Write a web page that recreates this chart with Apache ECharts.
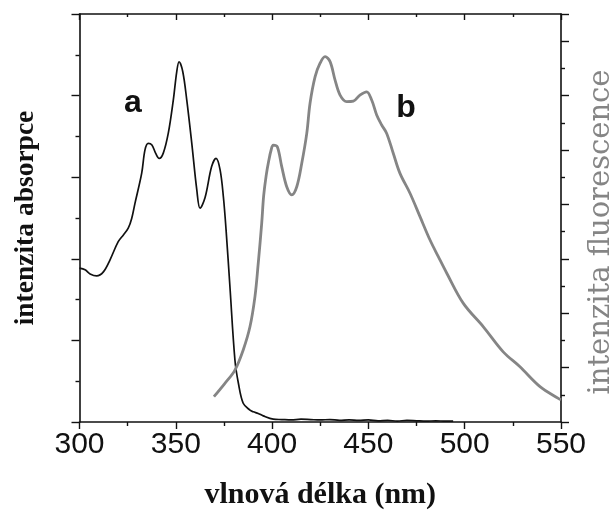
<!DOCTYPE html>
<html>
<head>
<meta charset="utf-8">
<script src="https://cdn.jsdelivr.net/npm/echarts@6/dist/echarts.min.js"></script>
<style>
  html, body { margin: 0; padding: 0; background: #fff; }
  #chart { width: 616px; height: 521px; }
</style>
</head>
<body>
<div id="chart"></div>
<script>
// Absorption spectrum (curve a), left axis
const absWavelength = [300, 302.9, 305.5, 308.9, 312.4, 315.8, 320.1, 322.7, 325.3, 327.1, 328.8,
  332.3, 334.0, 335.7, 337.6, 339.5, 341.4, 343.5, 346.1, 348.7, 350.5, 351.7, 353.6, 355.7,
  358.3, 360.9, 362.6, 365.2, 368.6, 370.9, 373.0, 374.7, 376.1, 378.1, 380.7, 382.5, 385.0,
  388.5, 390.2, 392.8, 395.4, 400.6, 405, 410, 415, 420, 425, 430, 435, 440, 445, 450, 455,
  460, 465, 470, 475, 480, 485, 490, 494];
const absValues = [3.77, 3.73, 3.63, 3.58, 3.68, 3.97, 4.42, 4.58, 4.75, 4.99, 5.36,
  6.10, 6.67, 6.83, 6.79, 6.59, 6.46, 6.59, 7.08, 7.89, 8.59, 8.83, 8.59, 7.89,
  6.83, 5.69, 5.24, 5.50, 6.26, 6.46, 6.18, 5.52, 4.71, 3.32, 1.52, 0.95, 0.46,
  0.29, 0.25, 0.21, 0.15, 0.07, 0.06, 0.05, 0.07, 0.06, 0.05, 0.06, 0.04, 0.05, 0.04, 0.05, 0.03,
  0.04, 0.02, 0.04, 0.03, 0.02, 0.03, 0.02, 0.02];

// Fluorescence spectrum (curve b), right axis
const fluoWavelength = [369.8, 375.5, 380.7, 385.0, 388.5, 391.1, 392.8, 394.6, 395.6, 396.9,
  398.3, 399.5, 400.6, 402.7, 405.0, 407.6, 410.2, 412.8, 415.4, 418.0, 419.7, 422.3, 424.9,
  427.5, 430.1, 432.7, 435.3, 438.7, 442.2, 445.6, 449.1, 451.7, 454.3, 456.9, 459.5, 462.9,
  466.4, 471.6, 476.8, 482.0, 486.3, 490.7, 499.3, 509.7, 520.0, 528.7, 539.1, 548.6, 550];
const fluoValues = [0.93, 1.42, 1.91, 2.65, 3.50, 4.61, 5.83, 7.30, 8.30, 9.05,
  9.62, 10.00, 10.18, 10.12, 9.39, 8.65, 8.35, 8.65, 9.51, 10.61, 11.72, 12.69, 13.19,
  13.43, 13.25, 12.57, 12.02, 11.78, 11.80, 12.02, 12.14, 11.84, 11.29, 10.92, 10.61, 9.88,
  9.14, 8.41, 7.55, 6.69, 6.08, 5.47, 4.36, 3.50, 2.58, 2.03, 1.30, 0.87, 0.82];

const curveLabels = ['a', 'b'];
const xTitle = 'vlnová délka (nm)';
const yLeftTitle = 'intenzita absorpce';
const yRightTitle = 'intenzita fluorescence';

const pairs = (xs, ys) => xs.map((x, i) => [x, ys[i]]);

const axisColor = '#111';
const gray = '#858585';
const sans = "'Liberation Sans Narrow', 'Liberation Sans', Arial, sans-serif";
const serif = "'Liberation Serif', 'Times New Roman', serif";

const chart = echarts.init(document.getElementById('chart'), null, { renderer: 'canvas' });

chart.setOption({
  animation: false,
  backgroundColor: '#fff',
  grid: { left: 79.5, right: 55, top: 14, bottom: 99, containLabel: false, outerBoundsMode: 'none' },
  xAxis: [
    {
      type: 'value', position: 'bottom', min: 300, max: 550, interval: 50,
      axisLine: { show: true, onZero: false, lineStyle: { color: axisColor, width: 1.6 } },
      axisTick: { show: true, inside: false, length: 7, lineStyle: { color: axisColor, width: 1.4 } },
      minorTick: { show: true, splitNumber: 2, length: 4, lineStyle: { color: axisColor, width: 1.4 } },
      splitLine: { show: false },
      axisLabel: { color: '#111', fontFamily: sans, fontSize: 30, margin: 8 },
      name: xTitle, nameLocation: 'middle', nameGap: 58,
      nameTextStyle: { color: '#111', fontFamily: serif, fontWeight: 'bold', fontSize: 30 }
    },
    {
      type: 'value', position: 'top', min: 300, max: 550, interval: 50,
      axisLine: { show: true, onZero: false, lineStyle: { color: axisColor, width: 1.6 } },
      axisTick: { show: true, inside: true, length: 6, lineStyle: { color: axisColor, width: 1.4 } },
      minorTick: { show: true, splitNumber: 2, length: 3, lineStyle: { color: axisColor, width: 1.4 } },
      splitLine: { show: false },
      axisLabel: { show: false }
    }
  ],
  yAxis: [
    {
      type: 'value', position: 'left', min: 0, max: 10, interval: 2,
      axisLine: { show: true, onZero: false, lineStyle: { color: axisColor, width: 1.6 } },
      axisTick: { show: true, inside: false, length: 8, lineStyle: { color: axisColor, width: 1.4 } },
      minorTick: { show: true, splitNumber: 2, length: 4, lineStyle: { color: axisColor, width: 1.4 } },
      splitLine: { show: false },
      axisLabel: { show: false },
      name: yLeftTitle, nameLocation: 'middle', nameRotate: 90, nameGap: 40,
      nameTextStyle: { color: '#111', fontFamily: serif, fontWeight: 'bold', fontSize: 27.5 }
    },
    {
      type: 'value', position: 'right', min: 0, max: 15, interval: 2,
      axisLine: { show: true, onZero: false, lineStyle: { color: axisColor, width: 1.6 } },
      axisTick: { show: true, inside: false, length: 8, lineStyle: { color: axisColor, width: 1.4 } },
      minorTick: { show: true, splitNumber: 2, length: 4, lineStyle: { color: axisColor, width: 1.4 } },
      splitLine: { show: false },
      axisLabel: { show: false },
      name: yRightTitle, nameLocation: 'middle', nameRotate: 90, nameGap: 26,
      nameTextStyle: { color: gray, fontFamily: "'DejaVu Serif', serif", fontSize: 29,
        padding: [0, 28, 0, 0] }
    }
  ],
  series: [
    {
      name: curveLabels[0], type: 'line', xAxisIndex: 0, yAxisIndex: 0,
      data: pairs(absWavelength, absValues),
      smooth: 0.35, showSymbol: false,
      lineStyle: { color: '#111', width: 1.7 }
    },
    {
      name: curveLabels[1], type: 'line', xAxisIndex: 0, yAxisIndex: 1,
      data: pairs(fluoWavelength, fluoValues),
      smooth: 0.35, showSymbol: false,
      lineStyle: { color: gray, width: 2.8 }
    }
  ],
  graphic: [
    { type: 'text', x: 133, y: 103, style: { text: curveLabels[0], fill: '#111',
      font: "bold 32px " + sans, align: 'center', verticalAlign: 'middle' } },
    { type: 'text', x: 406, y: 108, style: { text: curveLabels[1], fill: '#111',
      font: "bold 32px " + sans, align: 'center', verticalAlign: 'middle' } }
  ]
});
</script>
</body>
</html>
